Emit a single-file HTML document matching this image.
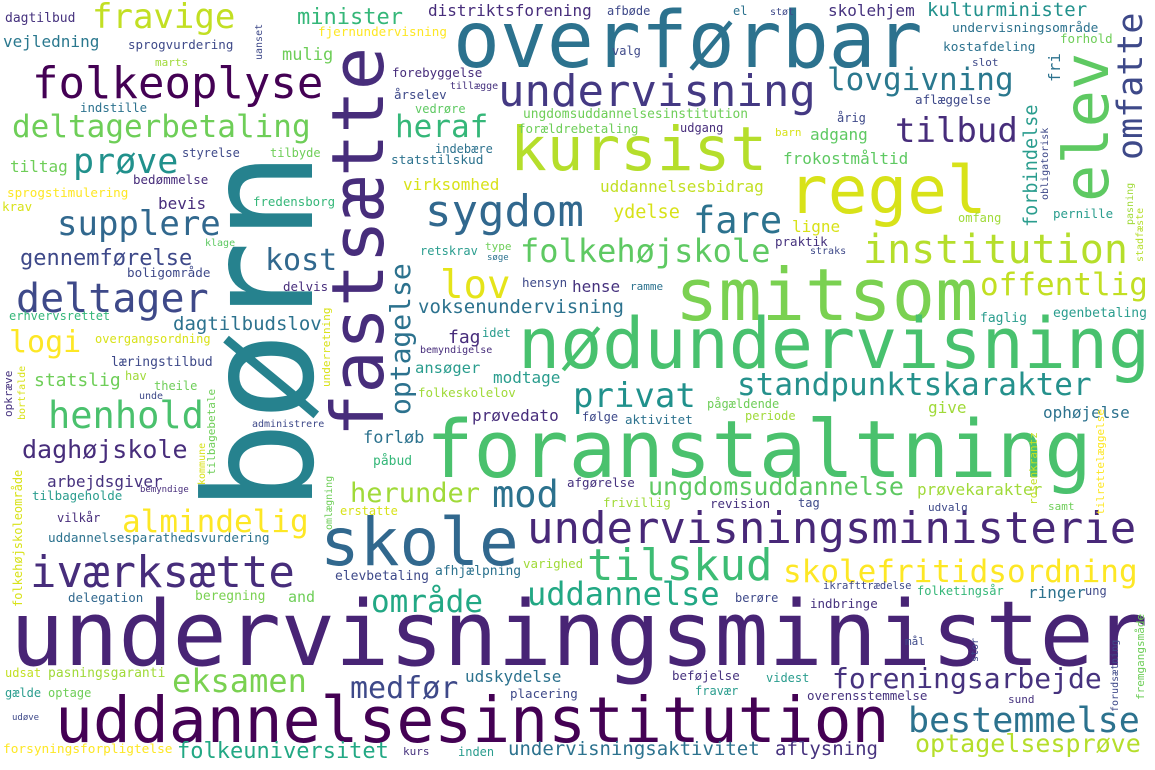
<!DOCTYPE html>
<html><head><meta charset="utf-8"><style>
html,body{margin:0;padding:0;background:#fff;width:1155px;height:770px;overflow:hidden}
svg text{font-family:"DejaVu Sans Mono","Liberation Mono",monospace}
</style></head><body>
<svg id="cloud" width="1155" height="770" xmlns="http://www.w3.org/2000/svg"></svg>
<script>
// [word, x, baseline y, font-size, color, vertical]
const words = [
["undervisningsminister",10,665,90,"#482475",0],
["uddannelsesinstitution",55,742,63,"#440154",0],
["børn",312,512,150,"#26828e",1],
["fastsætte",383,437,72,"#472d7b",1],
["overførbar",453,67,78,"#2c728e",0],
["smitsom",675,320,72,"#7ad151",0],
["nødundervisning",518,368,70,"#48c16e",0],
["foranstaltning",426,477,79,"#4ac16d",0],
["skole",320,565,66,"#31688e",0],
["regel",788,213,66,"#d8e219",0],
["kursist",510,170,61,"#b5de2b",0],
["elev",1108,202,62,"#5ec962",1],
["undervisning",498,106,44,"#443983",0],
["folkeoplyse",32,98,44,"#440154",0],
["undervisningsministerie",527,543,44,"#482878",0],
["institution",863,263,40,"#b5de2b",0],
["iværksætte",30,587,44,"#472d7b",0],
["deltager",16,312,40,"#3e4989",0],
["henhold",48,428,37,"#4ac16d",0],
["sygdom",425,226,44,"#31688e",0],
["tilskud",587,580,44,"#3dbc74",0],
["lov",440,298,39,"#e5e419",0],
["skolefritidsordning",783,582,31,"#fde725",0],
["standpunktskarakter",737,395,31,"#25918c",0],
["offentlig",980,295,31,"#c2df23",0],
["privat",573,407,34,"#21918c",0],
["folkehøjskole",520,262,32,"#5ec962",0],
["fare",693,233,37,"#2c728e",0],
["deltagerbetaling",12,137,31,"#6ece58",0],
["fravige",92,28,34,"#c2df23",0],
["supplere",57,235,34,"#31688e",0],
["prøve",73,173,35,"#21918c",0],
["heraf",395,137,31,"#35b779",0],
["lovgivning",827,90,31,"#2a788e",0],
["tilbud",895,142,34,"#472d7b",0],
["omfatte",1142,160,35,"#3e4989",1],
["kost",265,270,30,"#31688e",0],
["logi",9,352,30,"#fde725",0],
["mod",492,507,37,"#2c728e",0],
["almindelig",122,532,31,"#fde725",0],
["eksamen",172,692,32,"#7ad151",0],
["medfør",350,698,30,"#3e4989",0],
["område",371,612,31,"#22a884",0],
["uddannelse",527,605,32,"#22a884",0],
["foreningsarbejde",832,688,28,"#46327e",0],
["bestemmelse",908,732,35,"#2c728e",0],
["optagelsesprøve",915,752,25,"#b5de2b",0],
["herunder",350,502,27,"#a0da39",0],
["ungdomsuddannelse",648,495,25,"#5ec962",0],
["daghøjskole",22,458,25,"#472d7b",0],
["gennemførelse",20,265,22,"#3e4989",0],
["voksenundervisning",418,313,19,"#2c728e",0],
["optagelse",410,415,28,"#2c728e",1],
["folkeuniversitet",177,758,22,"#22a884",0],
["undervisningsaktivitet",508,755,19,"#2c728e",0],
["aflysning",775,755,19,"#46327e",0],
["udskydelse",465,682,16,"#2c728e",0],
["minister",297,24,22,"#35b779",0],
["distriktsforening",428,16,16,"#472d7b",0],
["kulturminister",927,16,19,"#21918c",0],
["skolehjem",828,16,16,"#46327e",0],
["vejledning",3,47,16,"#2a788e",0],
["statslig",34,386,18,"#6ece58",0],
["arbejdsgiver",47,487,16,"#46327e",0],
["forløb",363,443,17,"#2c728e",0],
["dagtilbudslov",173,330,19,"#2c728e",0],
["frokostmåltid",783,164,16,"#5ec962",0],
["adgang",810,140,16,"#5ec962",0],
["uddannelsesbidrag",600,192,16,"#c2df23",0],
["virksomhed",403,190,16,"#d8e219",0],
["dagtilbud",5,22,13,"#46327e",0],
["sprogvurdering",128,49,12.5,"#3e4989",0],
["mulig",282,60,17,"#6ece58",0],
["tiltag",10,172,16,"#6ece58",0],
["bevis",158,209,16,"#472d7b",0],
["fag",448,343,18,"#472d7b",0],
["ansøger",415,373,15.5,"#2a9d8e",0],
["modtage",493,383,16,"#2a9d8e",0],
["prøvedato",472,421,16,"#472d7b",0],
["ophøjelse",1043,418,16,"#2c728e",0],
["ringer",1028,598,16,"#2c728e",0],
["ydelse",613,218,18.5,"#d8e219",0],
["ligne",792,232,16,"#d8e219",0],
["hense",572,292,16,"#46327e",0],
["give",928,413,16,"#a0da39",0],
["prøvekarakter",917,495,16,"#a0da39",0],
["indbringe",810,608,12.5,"#46327e",0],
["varighed",523,568,12.5,"#a0da39",0],
["erstatte",340,515,12,"#d8e219",0],
["elevbetaling",335,580,13,"#3e4989",0],
["afgørelse",567,487,12.5,"#46327e",0],
["afhjælpning",435,575,13,"#2c728e",0],
["statstilskud",391,164,12.8,"#2c728e",0],
["forbindelse",1037,227,18.5,"#2a9d8e",1],
["fjernundervisning",318,36,12.6,"#fde725",0],
["forebyggelse",392,77,12.5,"#472d7b",0],
["styrelse",182,157,12,"#3e4989",0],
["tilbyde",270,157,12,"#6ece58",0],
["sprogstimulering",7,197,12.6,"#fde725",0],
["læringstilbud",111,366,13,"#3e4989",0],
["overgangsordning",95,343,12,"#d8e219",0],
["delegation",68,602,12.5,"#31688e",0],
["beregning",195,600,13,"#7ad151",0],
["and",288,602,15,"#6ece58",0],
["placering",510,698,12.5,"#3e4989",0],
["beføjelse",672,680,12.5,"#46327e",0],
["fravær",695,695,12,"#2a9d8e",0],
["inden",458,756,12,"#2a9d8e",0],
["kurs",403,755,11,"#46327e",0],
["pasningsgaranti",48,677,13,"#a0da39",0],
["forsyningsforpligtelse",3,753,12.8,"#fde725",0],
["uddannelsesparathedsvurdering",48,542,12.7,"#2c728e",0],
["vilkår",57,522,12,"#472d7b",0],
["tilbageholde",32,500,12.5,"#2a9d8e",0],
["bemyndige",140,492,9,"#472d7b",0],
["krav",2,211,12.5,"#d8e219",0],
["bedømmelse",133,184,12.5,"#472d7b",0],
["fredensborg",253,206,12.4,"#35b779",0],
["klage",205,246,10,"#5ec962",0],
["boligområde",127,277,12.6,"#3e4989",0],
["delvis",283,291,12.5,"#472d7b",0],
["marts",155,66,11,"#a0da39",0],
["indstille",80,112,12.4,"#2c728e",0],
["årselev",394,99,12.5,"#3e4989",0],
["vedrøre",415,113,12,"#5ec962",0],
["tillægge",450,89,10,"#46327e",0],
["indebære",435,153,12,"#2c728e",0],
["forældrebetaling",518,133,12.5,"#6ece58",0],
["udgang",680,132,12,"#472d7b",0],
["ungdomsuddannelsesinstitution",523,118,12.9,"#6ece58",0],
["valg",612,55,12,"#3e4989",0],
["afbøde",607,15,12,"#3e4989",0],
["el",733,15,12,"#2c728e",0],
["støt",770,15,10,"#3e4989",0],
["undervisningsområde",952,32,12.8,"#2c728e",0],
["forhold",1060,43,12.5,"#6ece58",0],
["kostafdeling",943,51,12.8,"#2c728e",0],
["slot",972,66,11,"#3e4989",0],
["fri",1060,82,16,"#2c728e",1],
["aflæggelse",915,104,12.6,"#3e4989",0],
["årig",837,122,12,"#3e4989",0],
["barn",775,136,11,"#d8e219",0],
["obligatorisk",1048,200,10,"#3e4989",1],
["pernille",1053,218,12.5,"#2a9d8e",0],
["omfang",958,222,12,"#a0da39",0],
["pasning",1133,225,10,"#a0da39",1],
["stadfæste",1143,262,10,"#b5de2b",1],
["praktik",775,246,12.5,"#46327e",0],
["straks",810,254,10,"#3e4989",0],
["faglig",980,322,13,"#2a9d8e",0],
["egenbetaling",1053,317,13,"#2a9d8e",0],
["retskrav",420,255,12,"#2a9d8e",0],
["type",485,250,11,"#6ece58",0],
["søge",487,260,9,"#2c728e",0],
["hensyn",522,287,12.5,"#3e4989",0],
["ramme",630,290,11,"#2c728e",0],
["idet",482,337,12,"#2a9d8e",0],
["bemyndigelse",420,353,10,"#472d7b",0],
["erhvervsrettet",9,320,12,"#35b779",0],
["hav",125,380,12,"#a0da39",0],
["theile",154,390,12,"#6ece58",0],
["unde",139,399,10,"#3e4989",0],
["opkræve",12,417,11,"#46327e",1],
["bortfalde",25,420,10,"#d8e219",1],
["administrere",252,427,10,"#3e4989",0],
["underretning",330,387,11,"#d8e219",1],
["omlægning",332,530,10,"#6ece58",1],
["kommune",205,485,10,"#d8e219",1],
["tilbagebetale",215,475,11,"#6ece58",1],
["folkehøjskoleområde",22,607,12,"#d8e219",1],
["uanset",262,60,10,"#3e4989",1],
["folkeskolelov",418,397,12.5,"#a0da39",0],
["følge",582,421,12,"#3e4989",0],
["aktivitet",625,424,12.5,"#2c728e",0],
["påbud",373,465,13,"#35b779",0],
["frivillig",603,507,12.5,"#a0da39",0],
["revision",710,508,12.5,"#46327e",0],
["berøre",735,602,12,"#3e4989",0],
["pågældende",707,408,12,"#6ece58",0],
["periode",745,420,12,"#a0da39",0],
["rosenkrantz",1037,505,11,"#c2df23",1],
["tilrettelæggelse",1104,515,11,"#fde725",1],
["tag",798,507,12,"#3e4989",0],
["udvalg",928,511,11,"#3e4989",0],
["samt",1048,510,11,"#6ece58",0],
["ikrafttrædelse",823,589,10.5,"#3e4989",0],
["folketingsår",917,595,12,"#35b779",0],
["ung",1085,595,12,"#3e4989",0],
["fremgangsmåde",1144,700,11,"#6ece58",1],
["mål",905,645,11,"#3e4989",0],
["stor",978,662,10,"#3e4989",1],
["forudsætning",1118,712,10,"#3e4989",1],
["videst",766,682,12,"#2a9d8e",0],
["overensstemmelse",807,700,12.5,"#46327e",0],
["sund",1008,703,11,"#46327e",0],
["udsat",5,677,12,"#c2df23",0],
["gælde",5,697,12,"#2a9d8e",0],
["optage",48,697,12,"#6ece58",0],
["udøve",12,720,9,"#3e4989",0]
];
</script>
<script>
const svg=document.getElementById('cloud');
const NS='http://www.w3.org/2000/svg';
for(const w of words){
  const t=document.createElementNS(NS,'text');
  t.textContent=w[0];
  t.setAttribute('x',w[1]);
  t.setAttribute('y',w[2]);
  t.setAttribute('font-size',w[3]);
  t.setAttribute('fill',w[4]);
  if(w[5]) t.setAttribute('transform','rotate(-90 '+w[1]+' '+w[2]+')');
  
  
  svg.appendChild(t);
}
</script>
</body></html>
